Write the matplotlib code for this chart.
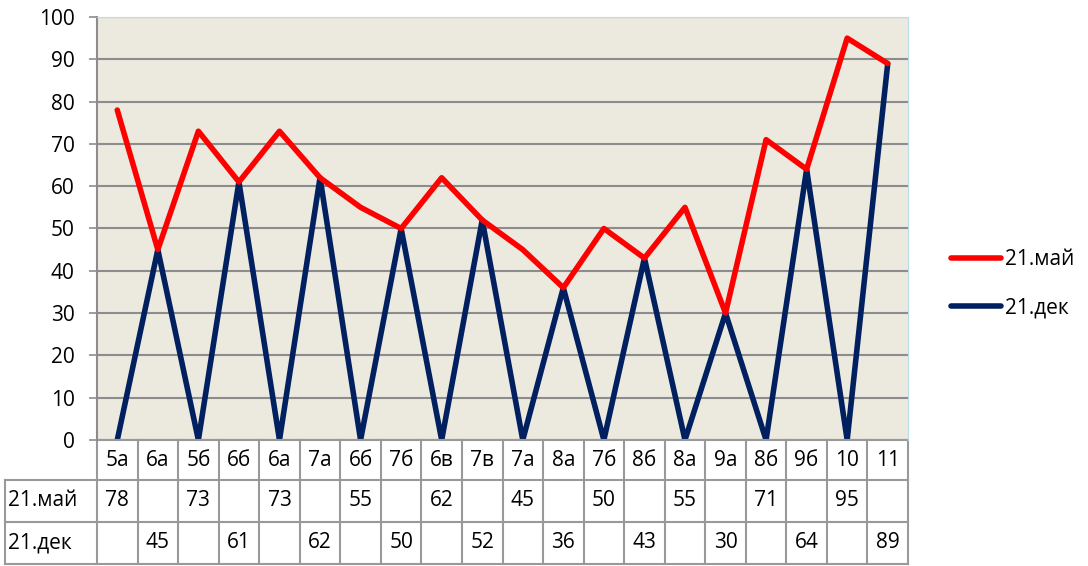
import matplotlib.pyplot as plt
import matplotlib.transforms as mtransforms
import numpy as np

plt.rcParams['font.family'] = ['Open Sans', 'DejaVu Sans']

categories = ['5а', '6а', '5б', '6б', '6а', '7а', '6б', '7б', '6в', '7в',
              '7а', '8а', '7б', '8б', '8а', '9а', '8б', '9б', '10', '11']
may = [78, None, 73, None, 73, None, 55, None, 62, None,
       45, None, 50, None, 55, None, 71, None, 95, None]
dec = [None, 45, None, 61, None, 62, None, 50, None, 52,
       None, 36, None, 43, None, 30, None, 64, None, 89]
series_names = ['21.май', '21.дек']

may_v = np.array([v or 0 for v in may])
dec_v = np.array([v or 0 for v in dec])
x = np.arange(len(categories))

fig = plt.figure(figsize=(10.88, 5.66), dpi=100)
ax = fig.add_axes([97 / 1088, 1 - 440 / 566, 811 / 1088, 423 / 566])
ax.set_facecolor('#ECE9DF')

# stacked line chart: may series sits on top of dec
ax.plot(x, dec_v + may_v, color='#FF0000', lw=4, label=series_names[0],
        solid_joinstyle='round', solid_capstyle='round', zorder=3)
ax.plot(x, dec_v, color='#002060', lw=4, label=series_names[1],
        solid_joinstyle='round', solid_capstyle='round', zorder=2)

ax.set_xlim(-0.5, len(categories) - 0.5)
ax.set_ylim(0, 100)
ax.set_yticks(range(0, 101, 10))
ax.yaxis.grid(True, color='#8C8C8C', lw=1.5)
ax.set_axisbelow(True)
ax.set_xticks([])
ax.tick_params(axis='y', labelsize=15, length=6, width=1.2, color='#8C8C8C', pad=10)
for s in ['top', 'right']:
    ax.spines[s].set_color('#B7DDE8')
ax.spines['left'].set_color('#8C8C8C')
ax.spines['left'].set_linewidth(1.5)
ax.spines['bottom'].set_visible(False)

# data table under the plot
tr = mtransforms.blended_transform_factory(ax.transData, ax.transAxes)
rows = [0, -40 / 423, -82 / 423, -124 / 423]
lab_left = -0.5 - 92 / 40.55
gc = '#999999'
n = len(categories)
for i, yb in enumerate(rows):
    x0 = -0.5 if i == 0 else lab_left
    ax.plot([x0, n - 0.5], [yb, yb], transform=tr, color=gc, lw=1.5, clip_on=False)
for k in range(n + 1):
    ax.plot([k - 0.5, k - 0.5], [rows[0], rows[3]], transform=tr, color=gc, lw=1.5, clip_on=False)
ax.plot([lab_left, lab_left], [rows[1], rows[3]], transform=tr, color=gc, lw=1.5, clip_on=False)

for k, c in enumerate(categories):
    ax.text(k, (rows[0] + rows[1]) / 2, c, transform=tr, ha='center', va='center', fontsize=15)
for r, vals in enumerate([may, dec]):
    yc = (rows[r + 1] + rows[r + 2]) / 2
    ax.text(lab_left + 0.08, yc, series_names[r], transform=tr, ha='left', va='center', fontsize=15)
    for k, v in enumerate(vals):
        if v is not None:
            ax.text(k, yc, str(v), transform=tr, ha='center', va='center', fontsize=15)

ax.legend(loc='center left', bbox_to_anchor=(1.03, 0.37), frameon=False,
          fontsize=15, handlelength=2.4, handletextpad=0.2, labelspacing=1.3)

fig.savefig('out.png', dpi=100)
